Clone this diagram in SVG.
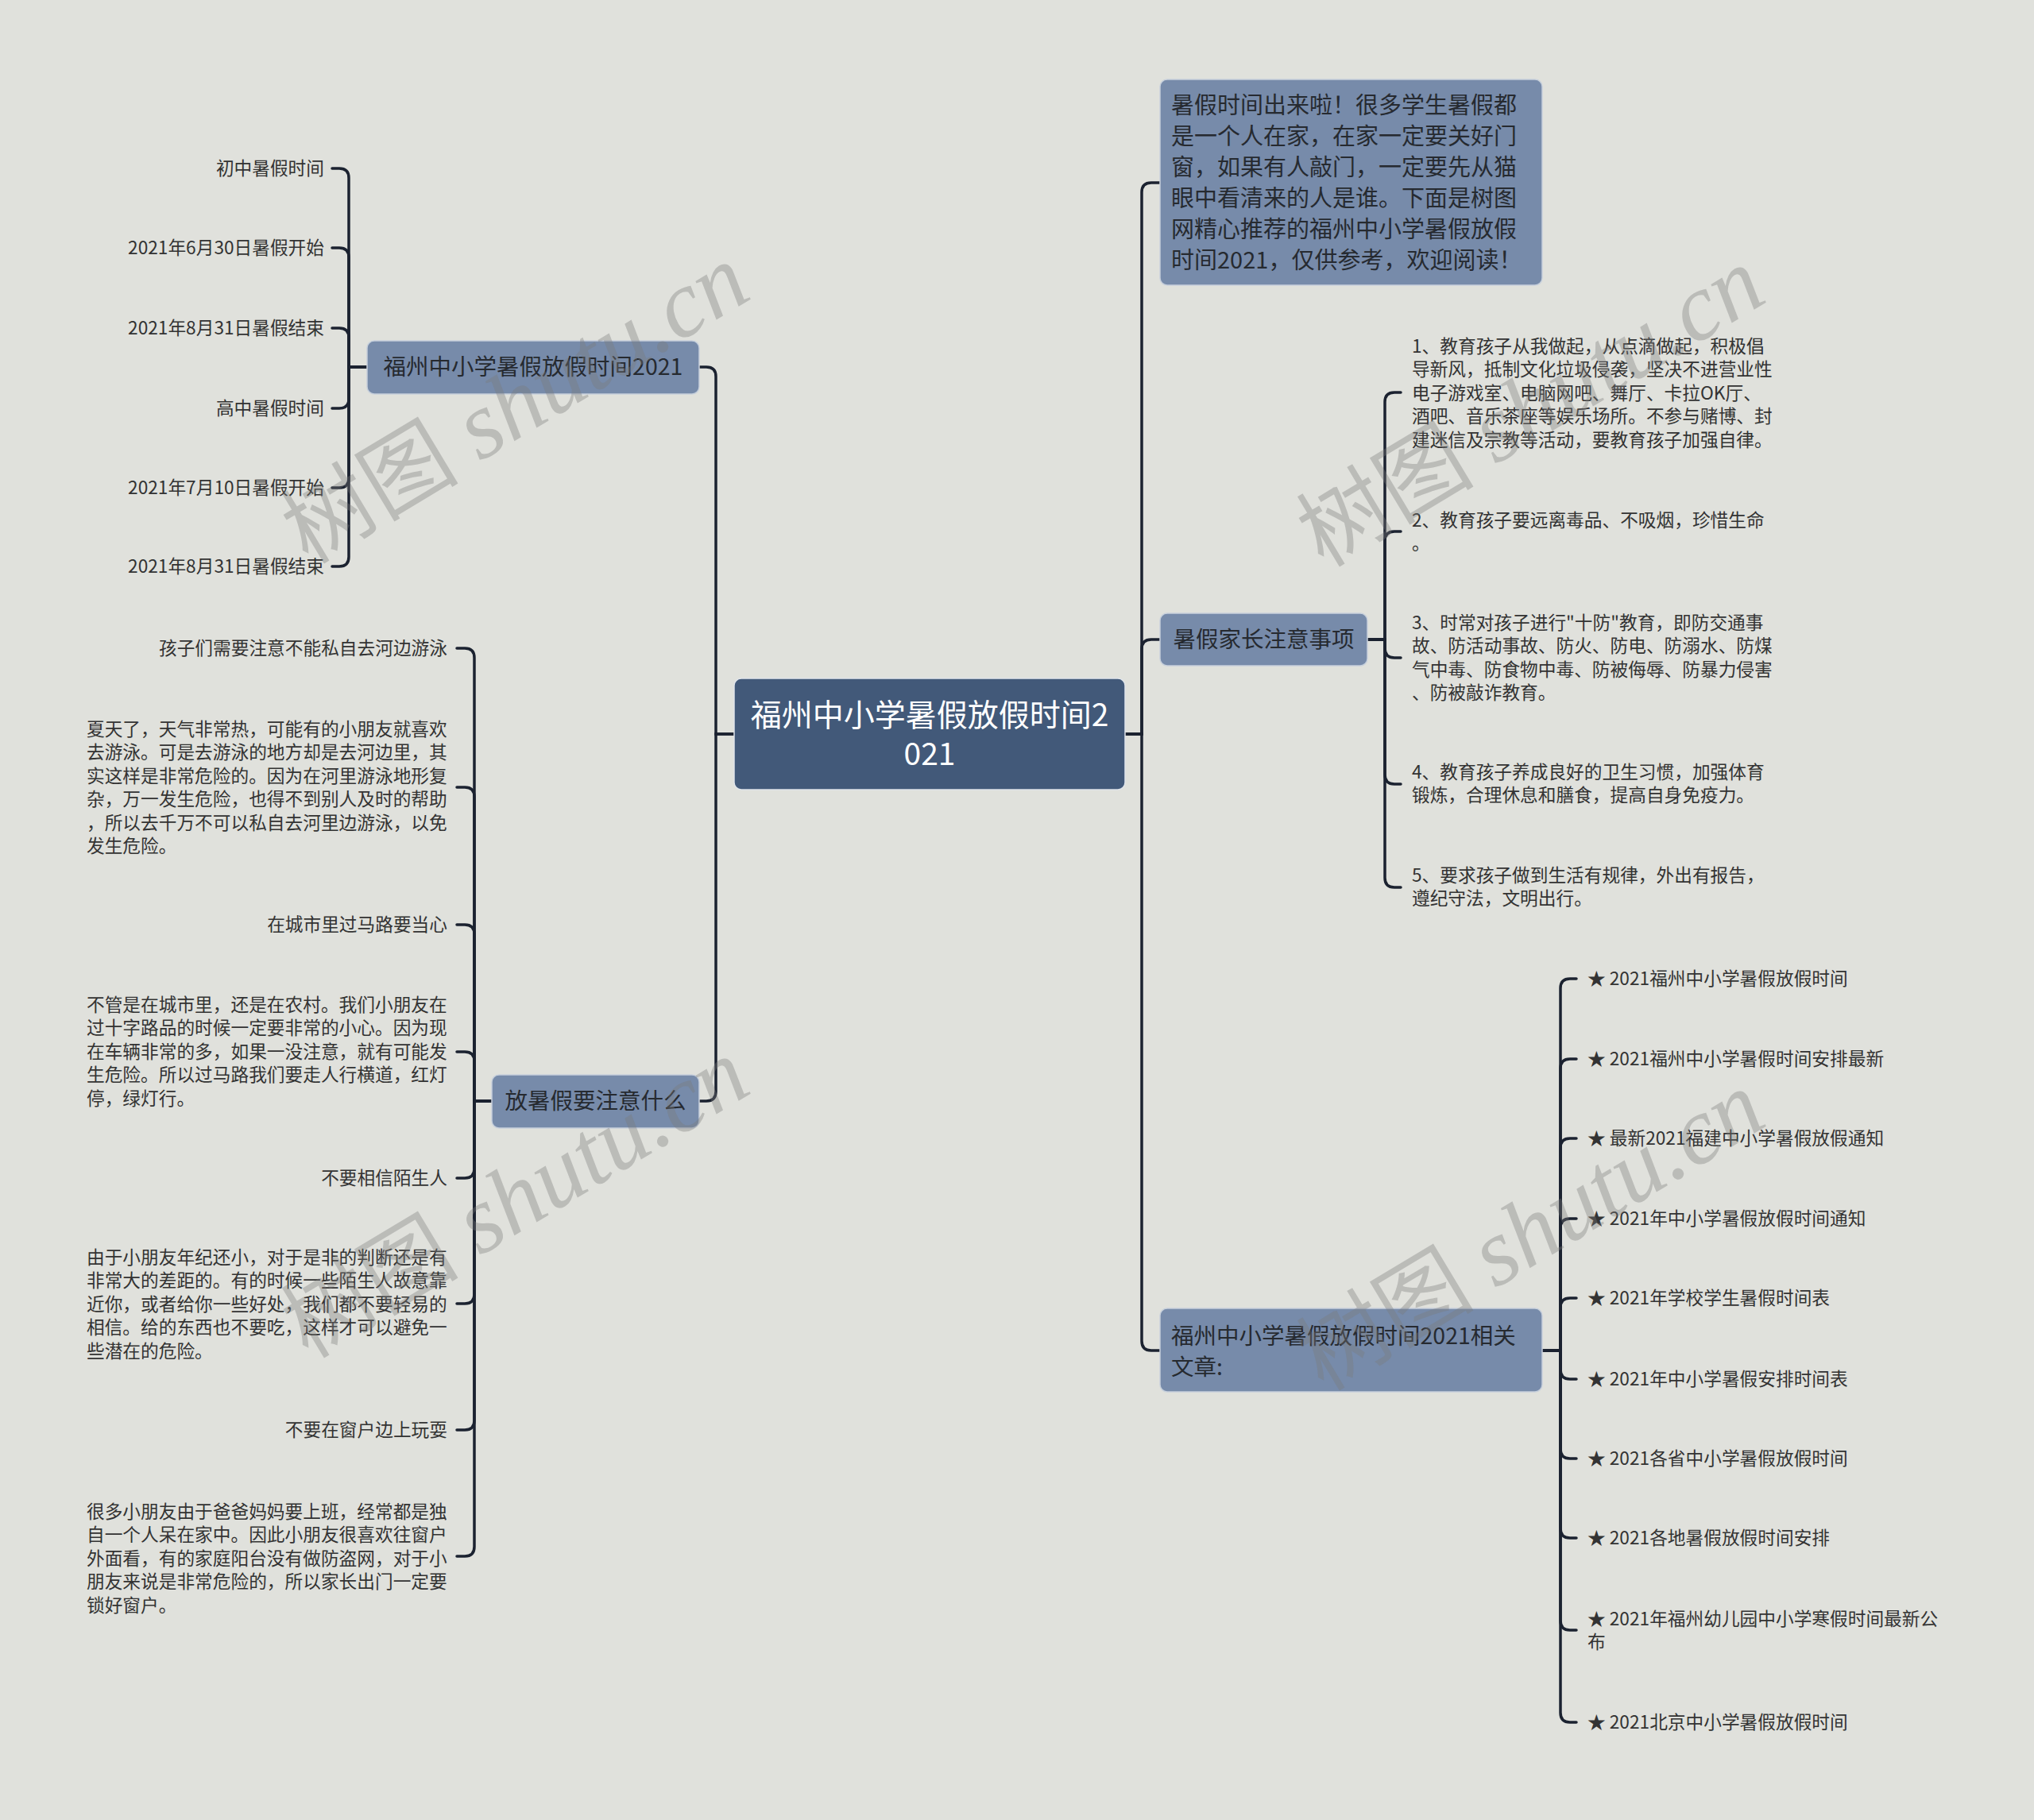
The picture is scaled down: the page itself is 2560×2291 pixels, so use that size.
<svg xmlns="http://www.w3.org/2000/svg" width="2560" height="2291" viewBox="0 0 2560 2291">
<style>
text{font-family:"Noto Sans CJK SC","Noto Sans",sans-serif}
.bg{fill:#e0e1dc}
.wm text{font-family:"Liberation Serif","Noto Sans CJK SC",serif;font-size:112px;fill:#7a7a7a;fill-opacity:0.36}
.wm tspan.it{font-style:italic;font-size:120px}
.root rect{fill:#425979;stroke:#dfe4ea;stroke-width:1.5}
.root text{fill:#ffffff;font-size:39px}
.br rect{fill:#778baa;stroke:#c7d0dc;stroke-width:1.5}
.br text{fill:#262a30;font-size:28.5px}
.intro text{font-size:29px}
.leaf text{fill:#333333;font-size:22.7px}
.lines path{fill:none;stroke:#1b2230;stroke-width:3.5;stroke-linecap:round}
</style>
<rect class="bg" x="0" y="0" width="2560" height="2291"/>

<g id="connectors" class="lines">
<path d="M924,924 H901 V474 Q901,462 889,462 H880"/>
<path d="M924,924 H901 V1374 Q901,1386 889,1386 H880"/>
<path d="M1416,924 H1437 V242 Q1437,230 1449,230 H1460"/>
<path d="M1416,924 H1437 V817 Q1437,805 1449,805 H1460"/>
<path d="M1416,924 H1437 V1688 Q1437,1700 1449,1700 H1460"/>
<path d="M462,462 H439 V224 Q439,212 427,212 H418"/>
<path d="M462,462 H439 V324 Q439,312 427,312 H418"/>
<path d="M462,462 H439 V425 Q439,413 427,413 H418"/>
<path d="M462,462 H439 V502 Q439,514 427,514 H418"/>
<path d="M462,462 H439 V602 Q439,614 427,614 H418"/>
<path d="M462,462 H439 V701 Q439,713 427,713 H418"/>
<path d="M619,1386 H597 V828 Q597,816 585,816 H575"/>
<path d="M619,1386 H597 V1003 Q597,991 585,991 H575"/>
<path d="M619,1386 H597 V1176 Q597,1164 585,1164 H575"/>
<path d="M619,1386 H597 V1336 Q597,1324 585,1324 H575"/>
<path d="M619,1386 H597 V1471 Q597,1483 585,1483 H575"/>
<path d="M619,1386 H597 V1629 Q597,1641 585,1641 H575"/>
<path d="M619,1386 H597 V1788 Q597,1800 585,1800 H575"/>
<path d="M619,1386 H597 V1947 Q597,1959 585,1959 H575"/>
<path d="M1721,805 H1743 V506 Q1743,494 1755,494 H1763"/>
<path d="M1721,805 H1743 V681 Q1743,669 1755,669 H1763"/>
<path d="M1721,805 H1743 V816 Q1743,828 1755,828 H1763"/>
<path d="M1721,805 H1743 V975 Q1743,987 1755,987 H1763"/>
<path d="M1721,805 H1743 V1105 Q1743,1117 1755,1117 H1763"/>
<path d="M1941,1700 H1964 V1244 Q1964,1232 1976,1232 H1984"/>
<path d="M1941,1700 H1964 V1345 Q1964,1333 1976,1333 H1984"/>
<path d="M1941,1700 H1964 V1445 Q1964,1433 1976,1433 H1984"/>
<path d="M1941,1700 H1964 V1546 Q1964,1534 1976,1534 H1984"/>
<path d="M1941,1700 H1964 V1646 Q1964,1634 1976,1634 H1984"/>
<path d="M1941,1700 H1964 V1724 Q1964,1736 1976,1736 H1984"/>
<path d="M1941,1700 H1964 V1824 Q1964,1836 1976,1836 H1984"/>
<path d="M1941,1700 H1964 V1924 Q1964,1936 1976,1936 H1984"/>
<path d="M1941,1700 H1964 V2040 Q1964,2052 1976,2052 H1984"/>
<path d="M1941,1700 H1964 V2156 Q1964,2168 1976,2168 H1984"/>
</g>

<g id="root" class="root">
<rect x="924" y="854" width="492" height="140" rx="9"/>
<text x="1170" y="914" text-anchor="middle">福州中小学暑假放假时间2</text>
<text x="1170" y="963" text-anchor="middle">021</text>
</g>

<g id="b-left1" class="br">
<rect x="462" y="429" width="418" height="67" rx="9"/>
<text x="671" y="472" text-anchor="middle">福州中小学暑假放假时间2021</text>
</g>
<g id="b-left2" class="br">
<rect x="619" y="1353" width="261" height="67" rx="9"/>
<text x="749.5" y="1396" text-anchor="middle">放暑假要注意什么</text>
</g>
<g id="b-intro" class="br intro">
<rect x="1460" y="100" width="481" height="259" rx="9"/>
<text x="1474" y="143">暑假时间出来啦！很多学生暑假都</text>
<text x="1474" y="182">是一个人在家，在家一定要关好门</text>
<text x="1474" y="221">窗，如果有人敲门，一定要先从猫</text>
<text x="1474" y="260">眼中看清来的人是谁。下面是树图</text>
<text x="1474" y="299">网精心推荐的福州中小学暑假放假</text>
<text x="1474" y="338">时间2021，仅供参考，欢迎阅读！</text>
</g>
<g id="b-right2" class="br">
<rect x="1460" y="772" width="261" height="66" rx="9"/>
<text x="1590.5" y="815" text-anchor="middle">暑假家长注意事项</text>
</g>
<g id="b-right3" class="br">
<rect x="1460" y="1647" width="481" height="105" rx="9"/>
<text x="1474" y="1692">福州中小学暑假放假时间2021相关</text>
<text x="1474" y="1731">文章:</text>
</g>

<g id="leaves-left1" class="leaf" text-anchor="end">
<g id="l1-1"><text x="408" y="220">初中暑假时间</text></g>
<g id="l1-2"><text x="408" y="320">2021年6月30日暑假开始</text></g>
<g id="l1-3"><text x="408" y="421">2021年8月31日暑假结束</text></g>
<g id="l1-4"><text x="408" y="522">高中暑假时间</text></g>
<g id="l1-5"><text x="408" y="622">2021年7月10日暑假开始</text></g>
<g id="l1-6"><text x="408" y="721">2021年8月31日暑假结束</text></g>
</g>

<g id="leaves-left2" class="leaf">
<g id="l2-1"><text x="563" y="824" text-anchor="end">孩子们需要注意不能私自去河边游泳</text></g>
<g id="l2-2"><text x="109" y="926">夏天了，天气非常热，可能有的小朋友就喜欢<tspan x="109" dy="29.4">去游泳。可是去游泳的地方却是去河边里，其</tspan><tspan x="109" dy="29.4">实这样是非常危险的。因为在河里游泳地形复</tspan><tspan x="109" dy="29.4">杂，万一发生危险，也得不到别人及时的帮助</tspan><tspan x="109" dy="29.4">，所以去千万不可以私自去河里边游泳，以免</tspan><tspan x="109" dy="29.4">发生危险。</tspan></text></g>
<g id="l2-3"><text x="563" y="1172" text-anchor="end">在城市里过马路要当心</text></g>
<g id="l2-4"><text x="109" y="1273">不管是在城市里，还是在农村。我们小朋友在<tspan x="109" dy="29.4">过十字路品的时候一定要非常的小心。因为现</tspan><tspan x="109" dy="29.4">在车辆非常的多，如果一没注意，就有可能发</tspan><tspan x="109" dy="29.4">生危险。所以过马路我们要走人行横道，红灯</tspan><tspan x="109" dy="29.4">停，绿灯行。</tspan></text></g>
<g id="l2-5"><text x="563" y="1491" text-anchor="end">不要相信陌生人</text></g>
<g id="l2-6"><text x="109" y="1591">由于小朋友年纪还小，对于是非的判断还是有<tspan x="109" dy="29.4">非常大的差距的。有的时候一些陌生人故意靠</tspan><tspan x="109" dy="29.4">近你，或者给你一些好处，我们都不要轻易的</tspan><tspan x="109" dy="29.4">相信。给的东西也不要吃，这样才可以避免一</tspan><tspan x="109" dy="29.4">些潜在的危险。</tspan></text></g>
<g id="l2-7"><text x="563" y="1808" text-anchor="end">不要在窗户边上玩耍</text></g>
<g id="l2-8"><text x="109" y="1911">很多小朋友由于爸爸妈妈要上班，经常都是独<tspan x="109" dy="29.4">自一个人呆在家中。因此小朋友很喜欢往窗户</tspan><tspan x="109" dy="29.4">外面看，有的家庭阳台没有做防盗网，对于小</tspan><tspan x="109" dy="29.4">朋友来说是非常危险的，所以家长出门一定要</tspan><tspan x="109" dy="29.4">锁好窗户。</tspan></text></g>
</g>

<g id="leaves-right2" class="leaf">
<g id="r2-1"><text x="1777" y="444">1、教育孩子从我做起，从点滴做起，积极倡<tspan x="1777" dy="29.4">导新风，抵制文化垃圾侵袭，坚决不进营业性</tspan><tspan x="1777" dy="29.4">电子游戏室、电脑网吧、舞厅、卡拉OK厅、</tspan><tspan x="1777" dy="29.4">酒吧、音乐茶座等娱乐场所。不参与赌博、封</tspan><tspan x="1777" dy="29.4">建迷信及宗教等活动，要教育孩子加强自律。</tspan></text></g>
<g id="r2-2"><text x="1777" y="663">2、教育孩子要远离毒品、不吸烟，珍惜生命<tspan x="1777" dy="29.4">。</tspan></text></g>
<g id="r2-3"><text x="1777" y="792">3、时常对孩子进行"十防"教育，即防交通事<tspan x="1777" dy="29.4">故、防活动事故、防火、防电、防溺水、防煤</tspan><tspan x="1777" dy="29.4">气中毒、防食物中毒、防被侮辱、防暴力侵害</tspan><tspan x="1777" dy="29.4">、防被敲诈教育。</tspan></text></g>
<g id="r2-4"><text x="1777" y="980">4、教育孩子养成良好的卫生习惯，加强体育<tspan x="1777" dy="29.4">锻炼，合理休息和膳食，提高自身免疫力。</tspan></text></g>
<g id="r2-5"><text x="1777" y="1110">5、要求孩子做到生活有规律，外出有报告，<tspan x="1777" dy="29.4">遵纪守法，文明出行。</tspan></text></g>
</g>

<g id="leaves-right3" class="leaf">
<g id="r3-1"><text x="1998" y="1240">★ 2021福州中小学暑假放假时间</text></g>
<g id="r3-2"><text x="1998" y="1341">★ 2021福州中小学暑假时间安排最新</text></g>
<g id="r3-3"><text x="1998" y="1441">★ 最新2021福建中小学暑假放假通知</text></g>
<g id="r3-4"><text x="1998" y="1542">★ 2021年中小学暑假放假时间通知</text></g>
<g id="r3-5"><text x="1998" y="1642">★ 2021年学校学生暑假时间表</text></g>
<g id="r3-6"><text x="1998" y="1744">★ 2021年中小学暑假安排时间表</text></g>
<g id="r3-7"><text x="1998" y="1844">★ 2021各省中小学暑假放假时间</text></g>
<g id="r3-8"><text x="1998" y="1944">★ 2021各地暑假放假时间安排</text></g>
<g id="r3-9"><text x="1998" y="2046">★ 2021年福州幼儿园中小学寒假时间最新公<tspan x="1998" dy="29.4">布</tspan></text></g>
<g id="r3-10"><text x="1998" y="2176">★ 2021北京中小学暑假放假时间</text></g>
</g>

<g id="watermarks" class="wm" text-anchor="middle">
<text transform="translate(649,510) rotate(-31)" x="0" y="38">树图 <tspan class="it">shutu.cn</tspan></text>
<text transform="translate(1927,514) rotate(-31)" x="0" y="38">树图 <tspan class="it">shutu.cn</tspan></text>
<text transform="translate(649,1510) rotate(-31)" x="0" y="38">树图 <tspan class="it">shutu.cn</tspan></text>
<text transform="translate(1927,1551) rotate(-31)" x="0" y="38">树图 <tspan class="it">shutu.cn</tspan></text>
</g>
</svg>
